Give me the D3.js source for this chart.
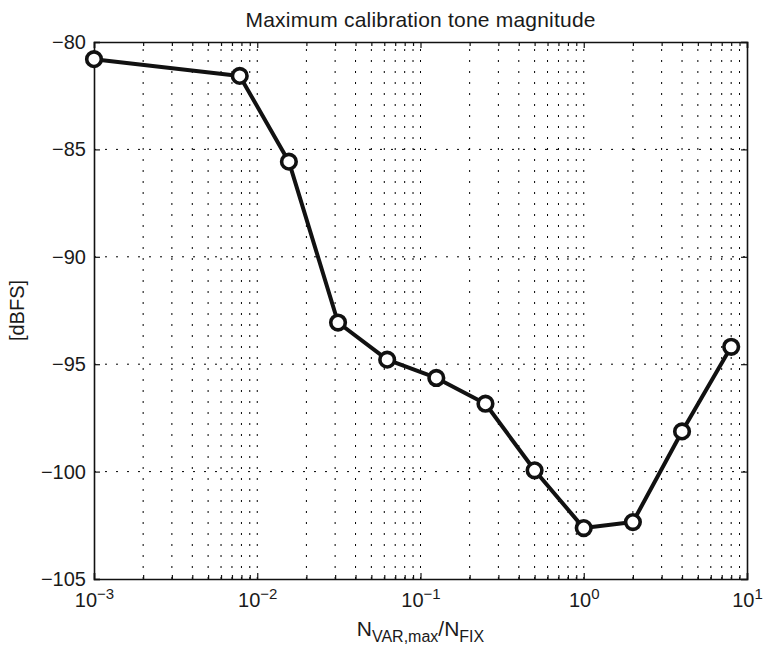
<!DOCTYPE html>
<html>
<head>
<meta charset="utf-8">
<script src="https://cdn.jsdelivr.net/npm/d3@7"></script>
<style>
  body { margin: 0; background: #fff; }
  svg { display: block; font-family: "Liberation Sans", Arial, Helvetica, sans-serif; }
  .grid line { stroke: #000; stroke-width: 1; stroke-dasharray: 2 9; }
  .axis path, .axis line { stroke: #111; }
  .axis text { fill: #1a1a1a; font-size: 20px; }
</style>
</head>
<body>
<svg id="chart" width="764" height="650"></svg>
<script>
// Ratio of the variable to fixed length (log axis) and measured tone level
const ratios = [1/1000, 1/128, 1/64, 1/32, 1/16, 1/8, 1/4, 1/2, 1, 2, 4, 8];
const levels = [-80.8, -81.58, -85.57, -93.06, -94.79, -95.64, -96.84, -99.94, -102.63, -102.35, -98.13, -94.19];

const xMajorTicks = [1e-3, 1e-2, 1e-1, 1e0, 1e1];
const xExponents = ["\u22123", "\u22122", "\u22121", "0", "1"];
const yTicks = [-105, -100, -95, -90, -85, -80];

const titleText = "Maximum calibration tone magnitude";
const yLabelText = "[dBFS]";

const margin = { left: 94, right: 17, top: 42, bottom: 71 };
const W = 764, H = 650;
const svg = d3.select("#chart");

const x = d3.scaleLog().domain([1e-3, 10]).range([margin.left, W - margin.right]);
const y = d3.scaleLinear().domain([-105, -80]).range([H - margin.bottom, margin.top]);

// Minor tick positions: 2..9 inside each decade
const xMinorTicks = [];
for (let e = -3; e < 1; e++) {
  for (let k = 2; k <= 9; k++) xMinorTicks.push(k * Math.pow(10, e));
}

const x0 = x.range()[0], x1 = x.range()[1];
const y0 = y.range()[0], y1 = y.range()[1];

// Dotted grid
const grid = svg.append("g").attr("class", "grid");
grid.selectAll("line.v")
  .data(xMajorTicks.concat(xMinorTicks).filter(v => v > 1e-3 && v < 10))
  .join("line")
  .attr("x1", d => x(d)).attr("x2", d => x(d))
  .attr("y1", y0).attr("y2", y1);
grid.selectAll("line.h")
  .data(yTicks.filter(v => v > -105 && v < -80))
  .join("line")
  .attr("x1", x0).attr("x2", x1)
  .attr("y1", d => y(d)).attr("y2", d => y(d));

// Axes with inward ticks on all four sides
const bottom = svg.append("g").attr("class", "axis")
  .attr("transform", `translate(0,${y0})`)
  .call(d3.axisBottom(x).tickValues(xMajorTicks).tickSize(-6).tickPadding(14).tickFormat(() => ""));
bottom.selectAll(".tick text").each(function(d, i) {
  const t = d3.select(this);
  t.append("tspan").text("10");
  t.append("tspan").attr("dy", "-0.55em").attr("font-size", "15px").text(xExponents[i]);
});
svg.append("g").attr("class", "axis")
  .attr("transform", `translate(0,${y0})`)
  .call(d3.axisBottom(x).tickValues(xMinorTicks).tickSize(-4).tickFormat(""))
  .call(g => g.select(".domain").remove());

svg.append("g").attr("class", "axis")
  .attr("transform", `translate(0,${y1})`)
  .call(d3.axisTop(x).tickValues(xMajorTicks).tickSize(-6).tickFormat(""));
svg.append("g").attr("class", "axis")
  .attr("transform", `translate(0,${y1})`)
  .call(d3.axisTop(x).tickValues(xMinorTicks).tickSize(-4).tickFormat(""))
  .call(g => g.select(".domain").remove());

svg.append("g").attr("class", "axis")
  .attr("transform", `translate(${x0},0)`)
  .call(d3.axisLeft(y).tickValues(yTicks).tickSize(-6).tickPadding(8));
svg.append("g").attr("class", "axis")
  .attr("transform", `translate(${x1},0)`)
  .call(d3.axisRight(y).tickValues(yTicks).tickSize(-6).tickFormat(""));

svg.selectAll(".axis .domain").attr("stroke-width", 1.6);
svg.selectAll(".axis .tick line").attr("stroke-width", 1.2);

// Data line and markers
const line = d3.line().x((d, i) => x(ratios[i])).y(d => y(d));
svg.append("path")
  .datum(levels)
  .attr("d", line)
  .attr("fill", "none")
  .attr("stroke", "#111")
  .attr("stroke-width", 4)
  .attr("stroke-linejoin", "round");

svg.append("g").selectAll("circle")
  .data(levels)
  .join("circle")
  .attr("cx", (d, i) => x(ratios[i]))
  .attr("cy", d => y(d))
  .attr("r", 7.3)
  .attr("fill", "#fff")
  .attr("stroke", "#111")
  .attr("stroke-width", 3.6);

// Title and axis labels
svg.append("text")
  .attr("x", (x0 + x1) / 2).attr("y", 27)
  .attr("text-anchor", "middle")
  .attr("font-size", 21).attr("fill", "#1a1a1a")
  .attr("textLength", 350).attr("lengthAdjust", "spacing")
  .text(titleText);

const xl = svg.append("text")
  .attr("x", (x0 + x1) / 2).attr("y", 636)
  .attr("text-anchor", "middle")
  .attr("font-size", 21).attr("fill", "#1a1a1a");
xl.append("tspan").text("N");
xl.append("tspan").attr("font-size", 16).attr("dy", 6).text("VAR,max");
xl.append("tspan").attr("dy", -6).text("/N");
xl.append("tspan").attr("font-size", 16).attr("dy", 6).text("FIX");

svg.append("text")
  .attr("transform", `translate(24,${(y0 + y1) / 2}) rotate(-90)`)
  .attr("text-anchor", "middle")
  .attr("font-size", 20).attr("fill", "#1a1a1a")
  .text(yLabelText);
</script>
</body>
</html>
